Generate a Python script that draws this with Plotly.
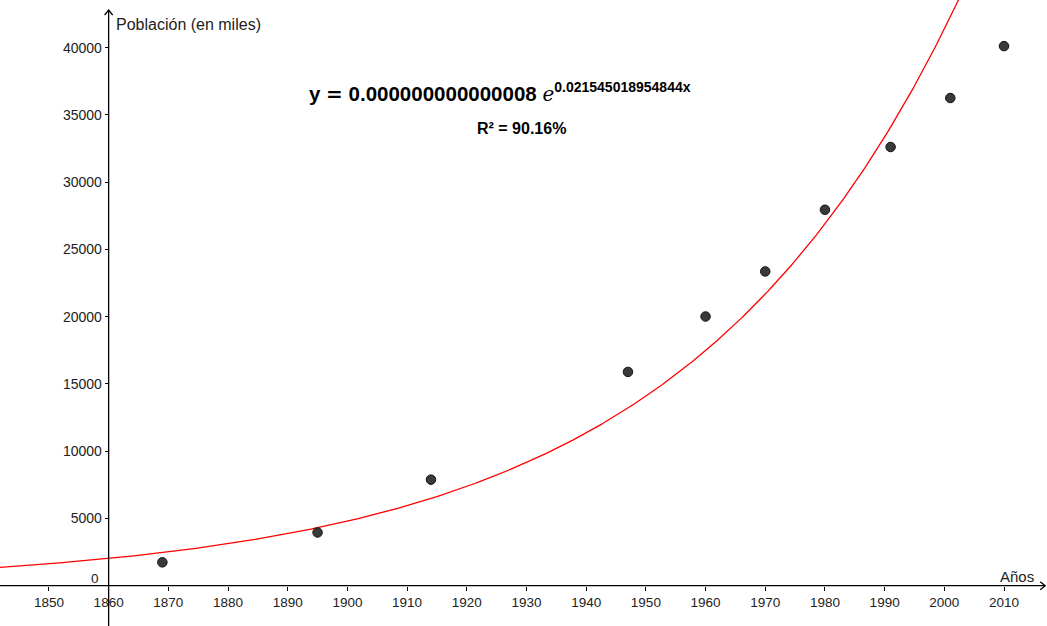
import numpy as np
import plotly.graph_objects as go

# Data (census years, population in thousands)
years = [1869, 1895, 1914, 1947, 1960, 1970, 1980, 1991, 2001, 2010]
population = [1737, 3955, 7885, 15894, 20014, 23364, 27950, 32616, 36260, 40117]

# Fitted model shown in the chart
coef_a = 0.000000000000008
coef_b = 0.021545018954844

x_ticks = [1850, 1860, 1870, 1880, 1890, 1900, 1910, 1920, 1930, 1940, 1950, 1960, 1970, 1980, 1990, 2000, 2010]
y_ticks = [5000, 10000, 15000, 20000, 25000, 30000, 35000, 40000]

X_MIN, X_MAX = 1841.8, 2017.2
Y_MIN, Y_MAX = -2996, 43546
X_ORIGIN, Y_ORIGIN = 1860, 0

xc = np.linspace(X_MIN, X_MAX, 600)
yc = coef_a * np.exp(coef_b * xc)

fig = go.Figure()
fig.add_trace(go.Scatter(x=xc, y=yc, mode="lines",
                         line=dict(color="#ff0000", width=1.3),
                         hoverinfo="skip", showlegend=False))
fig.add_trace(go.Scatter(x=years, y=population, mode="markers",
                         marker=dict(size=9.5, color="#3a3a3a",
                                     line=dict(color="#111111", width=1)),
                         showlegend=False))

font_main = "Liberation Sans, Arial, sans-serif"

xpos = (Y_ORIGIN - Y_MIN) / (Y_MAX - Y_MIN)
ypos = (X_ORIGIN - X_MIN) / (X_MAX - X_MIN)

fig.update_layout(
    width=1047, height=626,
    margin=dict(l=0, r=0, t=0, b=0),
    paper_bgcolor="white", plot_bgcolor="white",
    xaxis=dict(range=[X_MIN, X_MAX], anchor="free", position=xpos,
               tickvals=x_ticks, ticktext=[str(v) for v in x_ticks],
               ticks="outside", ticklen=4, tickcolor="#000", tickwidth=1,
               showgrid=False, zeroline=False, showline=False,
               tickfont=dict(family=font_main, size=13.5, color="#222")),
    yaxis=dict(range=[Y_MIN, Y_MAX], anchor="free", position=ypos,
               tickvals=y_ticks, ticktext=[str(v) for v in y_ticks],
               ticks="outside", ticklen=4, tickcolor="#000", tickwidth=1,
               showgrid=False, zeroline=False, showline=False,
               tickfont=dict(family=font_main, size=14, color="#222")),
)

# axis lines
fig.add_shape(type="line", x0=X_MIN, x1=2016.9, y0=0, y1=0,
              line=dict(color="#000", width=1.3))
fig.add_shape(type="line", x0=1860, x1=1860, y0=Y_MIN, y1=42800,
              line=dict(color="#000", width=1.3))
# arrow heads (pixel-sized chevrons)
fig.add_shape(type="path", xref="x", yref="y", xsizemode="pixel", ysizemode="pixel",
              xanchor=2016.9, yanchor=0, path="M -5,4 L 0,0 L -5,-4",
              line=dict(color="#000", width=1.3))
fig.add_shape(type="path", xref="x", yref="y", xsizemode="pixel", ysizemode="pixel",
              xanchor=1860, yanchor=42800, path="M -4,-5 L 0,0 L 4,-5",
              line=dict(color="#000", width=1.3))

fig.add_annotation(x=114/1047, y=1-24/626, xref="paper", yref="paper",
                   xanchor="left", yanchor="middle", showarrow=False,
                   text="Población (en miles)",
                   font=dict(family=font_main, size=16, color="#222"))
fig.add_annotation(x=1036/1047, y=1-576/626, xref="paper", yref="paper",
                   xanchor="right", yanchor="middle", showarrow=False,
                   text="Años",
                   font=dict(family=font_main, size=15, color="#222"))
fig.add_annotation(x=95/1047, y=1-578/626, xref="paper", yref="paper",
                   xanchor="center", yanchor="middle", showarrow=False,
                   text="0",
                   font=dict(family=font_main, size=13.5, color="#222"))

eq = ("<b>y <span style='font-family:DejaVu Sans, sans-serif;font-size:20px'>=</span>"
      " 0.000000000000008&nbsp;</b>"
      "<span style='font-family:DejaVu Serif, serif;font-size:20px'><i>e</i></span>"
      "<sup><span style='font-size:14px'><b>0.021545018954844x</b></span></sup>")
fig.add_annotation(x=307/1047, y=1-93/626, xref="paper", yref="paper",
                   xanchor="left", yanchor="middle", showarrow=False,
                   text=eq,
                   font=dict(family=font_main, size=20.5, color="#000"))
fig.add_annotation(x=521/1047, y=1-128/626, xref="paper", yref="paper",
                   xanchor="center", yanchor="middle", showarrow=False,
                   text="<b>R² = 90.16%</b>",
                   font=dict(family=font_main, size=16, color="#000"))

fig.write_html("out.html", config={"displayModeBar": False},
               post_script="document.body.style.margin='0px';")
